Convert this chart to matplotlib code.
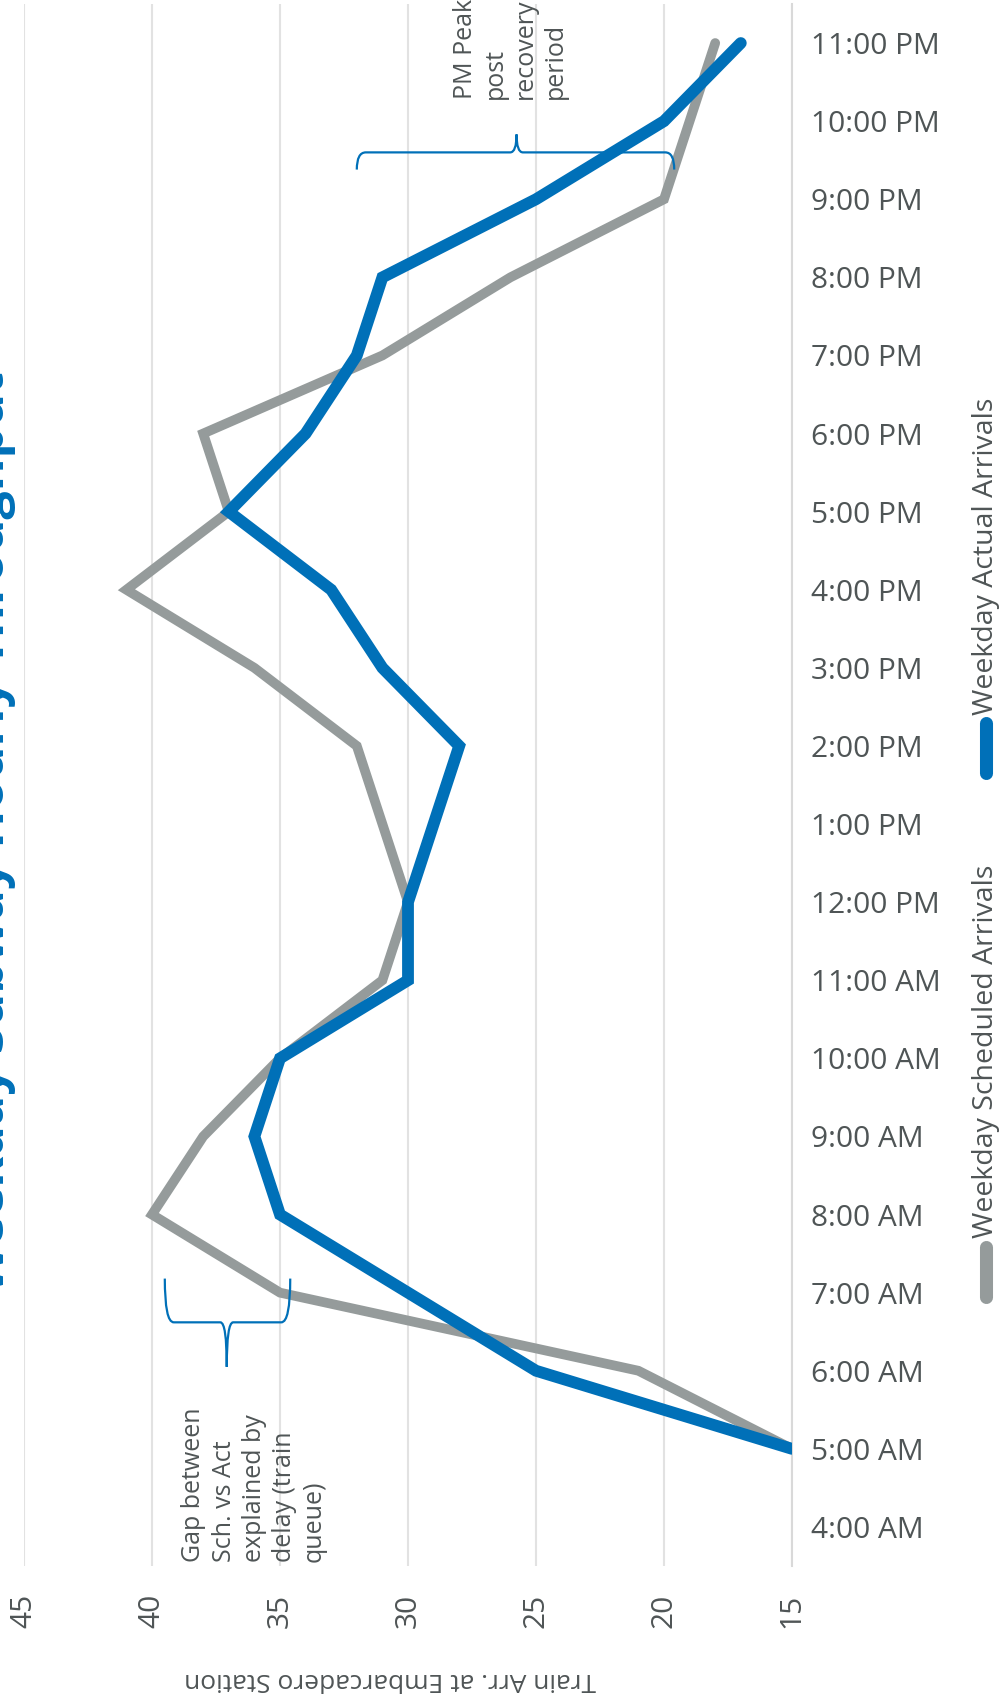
import matplotlib.pyplot as plt
from matplotlib.path import Path
from matplotlib.patches import PathPatch
import numpy as np

hours = ['4:00 AM', '5:00 AM', '6:00 AM', '7:00 AM', '8:00 AM', '9:00 AM',
         '10:00 AM', '11:00 AM', '12:00 PM', '1:00 PM', '2:00 PM', '3:00 PM',
         '4:00 PM', '5:00 PM', '6:00 PM', '7:00 PM', '8:00 PM', '9:00 PM',
         '10:00 PM', '11:00 PM']
scheduled = [np.nan, 15, 21, 35, 40, 38, 35, 31, 30, 31, 32, 36,
             41, 37, 38, 31, 26, 20, 19, 18]
actual = [np.nan, 15, 25, 30, 35, 36, 35, 30, 30, 29, 28, 31,
          33, 37, 34, 32, 31, 25, 20, 17]
value_ticks = [45, 40, 35, 30, 25, 20, 15]

BLUE = '#0070b8'
GREY = '#959b9b'
TXT = '#4f5556'

plt.rcParams['font.family'] = ['Open Sans', 'DejaVu Sans']

W, H = 1001, 1701
fig = plt.figure(figsize=(W / 100, H / 100), dpi=100)
ax = fig.add_axes([24 / W, 1 - 1566 / H, (792 - 24) / W, (1566 - 4) / H])

# the chart is laid out sideways: time runs up the right edge
pos = np.arange(len(hours))
ax.plot(scheduled, pos, color=GREY, lw=7, solid_capstyle='round',
        solid_joinstyle='miter', zorder=3)
ax.plot(actual, pos, color=BLUE, lw=8.5, solid_capstyle='round',
        solid_joinstyle='miter', zorder=4)

ax.set_xlim(45, 15)
ax.set_ylim(-0.5, len(hours) - 0.5)

ax.set_xticks(value_ticks)
ax.set_xticklabels([str(v) for v in value_ticks], rotation=90, fontsize=21.5,
                   color=TXT)
ax.set_yticks(pos)
ax.set_yticklabels(hours, fontsize=21.5, color=TXT)
ax.yaxis.tick_right()
ax.tick_params(axis='x', length=0, pad=20)
ax.tick_params(axis='y', length=0, pad=14)
for lab in ax.get_yticklabels():
    lab.set_ha('left')

ax.grid(axis='x', color='#e2e2e2', lw=1.5)
ax.set_axisbelow(True)
for side in ['left', 'top', 'bottom']:
    ax.spines[side].set_visible(False)
ax.spines['right'].set_color('#d9d9d9')
ax.spines['right'].set_linewidth(1.5)


def brace(x0, x1, xc, y_end, y_line, y_tip):
    # curly bracket between x0 and x1, cusp at xc pointing to y_tip
    s = np.sign(x0 - x1)
    r, c = 0.35, 0.25
    verts = [(x0, y_end), (x0, y_line), (x0 - r * s, y_line),
             (xc + c * s, y_line), (xc, y_line), (xc, y_tip),
             (xc, y_line), (xc - c * s, y_line),
             (x1 + r * s, y_line), (x1, y_line), (x1, y_end)]
    codes = [Path.MOVETO, Path.CURVE3, Path.CURVE3, Path.LINETO, Path.CURVE3,
             Path.CURVE3, Path.CURVE3, Path.CURVE3, Path.LINETO, Path.CURVE3,
             Path.CURVE3]
    ax.add_patch(PathPatch(Path(verts, codes), fill=False, ec=BLUE, lw=1.6,
                           zorder=5, clip_on=False))


brace(39.5, 34.6, 37.08, 3.18, 2.62, 2.05)
brace(32.0, 19.6, 25.76, 17.38, 17.6, 17.83)

ax.text(38.85, -0.45, 'Gap between\nSch. vs Act\nexplained by\ndelay (train\nqueue)',
        rotation=90, rotation_mode='anchor', ha='left', va='top',
        fontsize=18, color=TXT, linespacing=1.27, zorder=6)
ax.text(28.26, 18.29, 'PM Peak\npost\nrecovery\nperiod',
        rotation=90, rotation_mode='anchor', ha='left', va='top',
        fontsize=18, color=TXT, linespacing=1.27, zorder=6)

# axis title under the value ticks
fig.text(390 / W, 1 - 1679 / H, 'Train Arr. at Embarcadero Station',
         rotation=180, ha='center', va='center', fontsize=19, color=TXT)

# chart title along the left edge
fig.text(16 / W, 1 - 832 / H, 'Weekday Subway Hourly Throughput',
         rotation=90, rotation_mode='anchor', ha='center', va='bottom',
         fontsize=36, fontweight='bold', color=BLUE)

# legend, running upward along the right edge
fig.lines.append(plt.Line2D([985.5 / W, 985.5 / W], [1 - 1296.5 / H, 1 - 1246.5 / H],
                            transform=fig.transFigure, color=GREY, lw=9.4,
                            solid_capstyle='round'))
fig.text(993 / W, 1 - 1238 / H, 'Weekday Scheduled Arrivals', rotation=90,
         rotation_mode='anchor', ha='left', va='baseline', fontsize=20.5,
         color=TXT)
fig.lines.append(plt.Line2D([985.5 / W, 985.5 / W], [1 - 773.5 / H, 1 - 723.5 / H],
                            transform=fig.transFigure, color=BLUE, lw=9.4,
                            solid_capstyle='round'))
fig.text(993 / W, 1 - 715 / H, 'Weekday Actual Arrivals', rotation=90,
         rotation_mode='anchor', ha='left', va='baseline', fontsize=20.5,
         color=TXT)

fig.savefig('out.png', dpi=100)
